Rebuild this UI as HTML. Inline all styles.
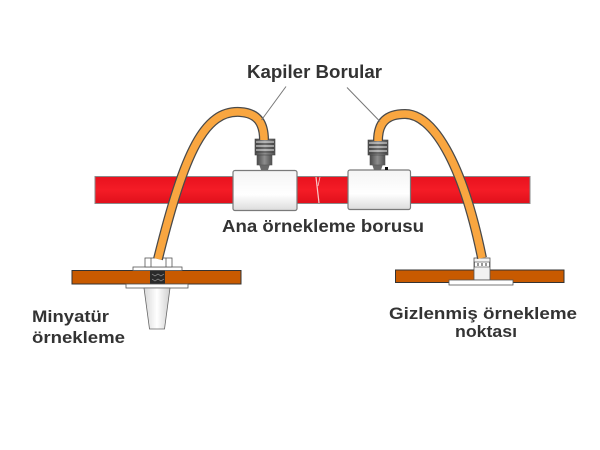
<!DOCTYPE html>
<html><head><meta charset="utf-8"><style>
html,body{margin:0;padding:0;background:#fff;}
svg{display:block;}
text{font-family:"Liberation Sans",Arial,sans-serif;font-weight:bold;fill:#333;}
</style></head><body>
<svg width="600" height="450" viewBox="0 0 600 450" xmlns="http://www.w3.org/2000/svg">
<defs>
<linearGradient id="red" x1="0" y1="0" x2="0" y2="1">
<stop offset="0" stop-color="#e8121e"/><stop offset="0.5" stop-color="#f41c26"/><stop offset="1" stop-color="#e0101b"/>
</linearGradient>
<linearGradient id="sleeve" x1="0" y1="0" x2="0" y2="1">
<stop offset="0" stop-color="#f4f4f4"/><stop offset="0.6" stop-color="#ffffff"/><stop offset="1" stop-color="#dcdcdc"/>
</linearGradient>
<linearGradient id="cone" x1="0" y1="0" x2="1" y2="0">
<stop offset="0" stop-color="#d8d8d8"/><stop offset="0.5" stop-color="#ffffff"/><stop offset="1" stop-color="#cfcfcf"/>
</linearGradient>
<linearGradient id="fit" x1="0" y1="0" x2="1" y2="0">
<stop offset="0" stop-color="#4a4a4a"/><stop offset="0.5" stop-color="#8e8e8e"/><stop offset="1" stop-color="#505050"/>
</linearGradient>
</defs>

<!-- red main pipe -->
<rect x="95" y="176.5" width="435" height="27" fill="url(#red)" stroke="#8a8a8a" stroke-width="1"/>
<line x1="316" y1="177" x2="319" y2="203" stroke="#f8c8c8" stroke-width="1.2"/>
<line x1="320" y1="177" x2="318" y2="186" stroke="#f8c8c8" stroke-width="0.8"/>

<!-- sleeves -->
<rect x="233" y="170.5" width="64" height="40" rx="2" fill="url(#sleeve)" stroke="#7a7a7a" stroke-width="1.2"/>
<rect x="348" y="170" width="62.5" height="39.5" rx="2" fill="url(#sleeve)" stroke="#7a7a7a" stroke-width="1.2"/>

<!-- left fitting -->
<g>
<path d="M259,164 L270,164 L268,170 L261,170 Z" fill="#6a6a6a"/>
<rect x="257" y="154" width="15" height="11" fill="url(#fit)" stroke="#555" stroke-width="0.6"/>
<rect x="255" y="139" width="20" height="16" fill="url(#fit)" stroke="#444" stroke-width="0.6"/>
<g stroke="#ddd" stroke-width="1">
<line x1="256" y1="142" x2="274" y2="142"/><line x1="256" y1="146" x2="274" y2="146"/><line x1="256" y1="150" x2="274" y2="150"/>
</g>
<g stroke="#333" stroke-width="0.8">
<line x1="256" y1="144" x2="274" y2="144"/><line x1="256" y1="148" x2="274" y2="148"/><line x1="256" y1="152" x2="274" y2="152"/>
</g>
</g>
<!-- right fitting -->
<g>
<path d="M372,164 L383,164 L381,170 L374,170 Z" fill="#6a6a6a"/>
<rect x="370" y="154" width="15" height="11" fill="url(#fit)" stroke="#555" stroke-width="0.6"/>
<rect x="368" y="140" width="20" height="15" fill="url(#fit)" stroke="#444" stroke-width="0.6"/>
<g stroke="#ddd" stroke-width="1">
<line x1="369" y1="143" x2="387" y2="143"/><line x1="369" y1="147" x2="387" y2="147"/><line x1="369" y1="151" x2="387" y2="151"/>
</g>
<g stroke="#333" stroke-width="0.8">
<line x1="369" y1="145" x2="387" y2="145"/><line x1="369" y1="149" x2="387" y2="149"/><line x1="369" y1="153" x2="387" y2="153"/>
</g>
<rect x="385" y="167" width="3" height="3" fill="#111"/>
</g>

<!-- left flange assembly -->
<rect x="72" y="270.5" width="169" height="13.5" fill="#c85a00" stroke="#333" stroke-width="1"/>
<rect x="133" y="267" width="49" height="3.5" fill="#fff" stroke="#555" stroke-width="0.8"/>
<rect x="145" y="258" width="27" height="9" fill="#fff" stroke="#555" stroke-width="0.8"/>
<line x1="151" y1="258" x2="151" y2="267" stroke="#555" stroke-width="0.8"/>
<line x1="166" y1="258" x2="166" y2="267" stroke="#555" stroke-width="0.8"/>
<rect x="150" y="270.5" width="15" height="13.5" fill="#2a2a2a"/>
<g stroke="#999" stroke-width="0.7" fill="none">
<path d="M152,274 l3,2 l3,-2 l3,2 l3,-2"/><path d="M152,279 l3,2 l3,-2 l3,2 l3,-2"/>
</g>
<rect x="126" y="284" width="62" height="4" fill="#fff" stroke="#555" stroke-width="0.8"/>
<path d="M144,288 L170,288 L164.5,329 L149.5,329 Z" fill="url(#cone)" stroke="#666" stroke-width="0.8"/>

<!-- right flange assembly -->
<rect x="395.5" y="270" width="168.5" height="12.5" fill="#c85a00" stroke="#333" stroke-width="1"/>
<rect x="474" y="258" width="16" height="22" fill="#f2f2f2" stroke="#555" stroke-width="0.8"/>
<rect x="474.5" y="262" width="15" height="5" fill="#fff" stroke="#444" stroke-width="0.6"/>
<g stroke="#333" stroke-width="1">
<line x1="478" y1="263" x2="478" y2="266"/><line x1="482" y1="263" x2="482" y2="266"/><line x1="486" y1="263" x2="486" y2="266"/>
</g>
<rect x="449" y="280" width="64" height="5" fill="#fff" stroke="#555" stroke-width="0.8"/>

<!-- tubes -->
<path d="M158,259 C185,150 205,110 240,112 C258,113 264,124 264,140" fill="none" stroke="#4a4a4a" stroke-width="10"/>
<path d="M158,259 C185,150 205,110 240,112 C258,113 264,124 264,140" fill="none" stroke="#f9a640" stroke-width="7.5"/>
<path d="M378,141 C378,123 386,114 405,114 C432,114 462,160 482,258" fill="none" stroke="#4a4a4a" stroke-width="10"/>
<path d="M378,141 C378,123 386,114 405,114 C432,114 462,160 482,258" fill="none" stroke="#f9a640" stroke-width="7.5"/>

<!-- leader lines -->
<line x1="286" y1="86.5" x2="261.5" y2="120" stroke="#777" stroke-width="1"/>
<line x1="347" y1="87.5" x2="380" y2="121.5" stroke="#777" stroke-width="1"/>

<!-- labels -->
<text x="247" y="78" font-size="18" textLength="135" lengthAdjust="spacingAndGlyphs">Kapiler Borular</text>
<text x="222" y="232" font-size="17.5" textLength="202" lengthAdjust="spacingAndGlyphs">Ana örnekleme borusu</text>
<text x="32" y="322" font-size="17" textLength="77" lengthAdjust="spacingAndGlyphs">Minyatür</text>
<text x="32" y="343" font-size="17" textLength="93" lengthAdjust="spacingAndGlyphs">örnekleme</text>
<text x="389" y="319" font-size="17" textLength="188" lengthAdjust="spacingAndGlyphs">Gizlenmiş örnekleme</text>
<text x="455" y="337" font-size="17" textLength="62" lengthAdjust="spacingAndGlyphs">noktası</text>
</svg>
</body></html>
